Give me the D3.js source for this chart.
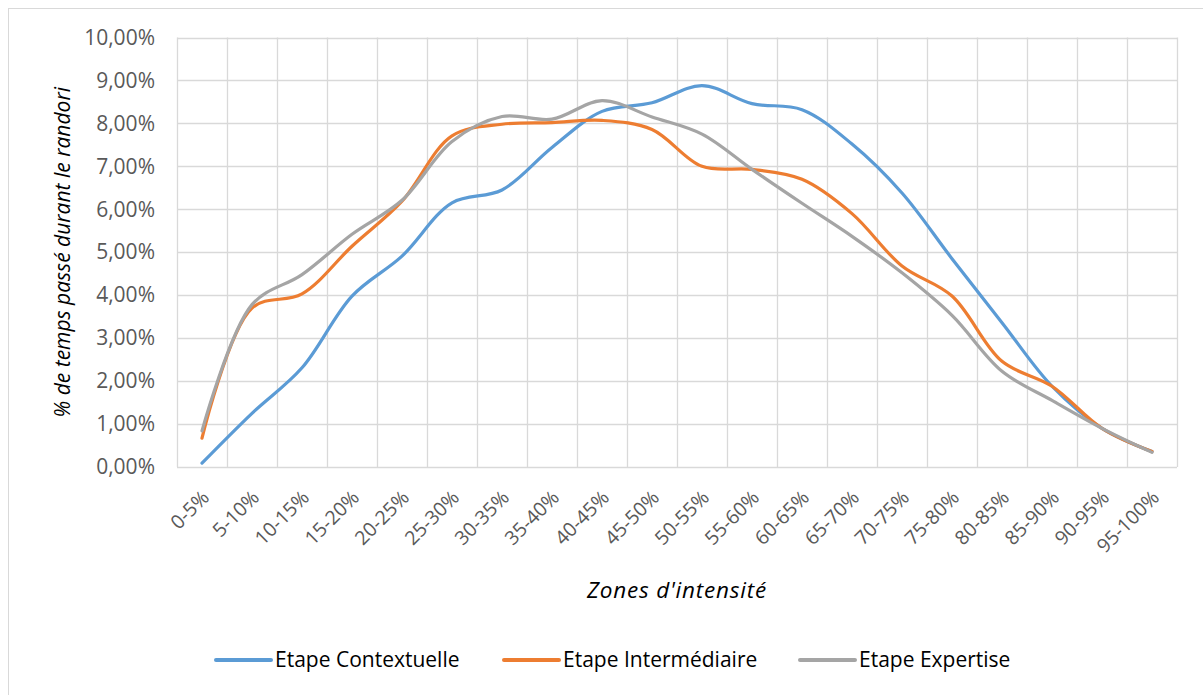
<!DOCTYPE html>
<html>
<head>
<meta charset="utf-8">
<script src="https://cdn.jsdelivr.net/npm/d3@7"></script>
<style>
  html, body { margin: 0; padding: 0; background: #fff; }
  svg { display: block; }
  text { font-family: "Open Sans", "Liberation Sans", sans-serif; }
</style>
</head>
<body>
<svg id="chart" width="1203" height="695"></svg>
<script>
// ---- Data ----
const categories = ["0-5%","5-10%","10-15%","15-20%","20-25%","25-30%","30-35%","35-40%","40-45%","45-50%",
  "50-55%","55-60%","60-65%","65-70%","70-75%","75-80%","80-85%","85-90%","90-95%","95-100%"];
const seriesNames = ["Etape Contextuelle", "Etape Intermédiaire", "Etape Expertise"];
const contextuelle = [0.09,1.25,2.31,3.98,4.91,6.15,6.45,7.44,8.28,8.48,8.88,8.46,8.32,7.52,6.38,4.85,3.36,1.88,0.90,0.36];
const intermediaire = [0.67,3.70,4.03,5.14,6.19,7.71,7.98,8.02,8.07,7.86,7.00,6.93,6.70,5.90,4.68,3.98,2.46,1.88,0.90,0.36];
const expertise = [0.84,3.78,4.48,5.42,6.21,7.58,8.16,8.10,8.53,8.15,7.75,6.93,6.14,5.37,4.52,3.53,2.23,1.55,0.90,0.34];
const yTicks = [0,1,2,3,4,5,6,7,8,9,10];
const yTitle = "% de temps passé durant le randori";
const xTitle = "Zones d'intensité";
const colors = ["#5B9BD5", "#ED7D31", "#A5A5A5"];

const seriesValues = [contextuelle, intermediaire, expertise];

// ---- Layout ----
const svg = d3.select("#chart");
const plot = { left: 177, right: 1177, top: 37.5, bottom: 467 };
const FONT = '"Open Sans", "Liberation Sans", sans-serif';

svg.append("rect").attr("x", 0).attr("y", 0).attr("width", 1203).attr("height", 695).attr("fill", "#fff");
// outer chart border
svg.append("rect").attr("x", 8.5).attr("y", 8.5).attr("width", 1205).attr("height", 700)
  .attr("fill", "none").attr("stroke", "#D9D9D9").attr("stroke-width", 1);

const xPoint = d3.scalePoint().domain(categories).range([plot.left, plot.right]).padding(0.5);
const xBand = d3.scaleBand().domain(categories).range([plot.left, plot.right]);
const y = d3.scaleLinear().domain([0, 10]).range([plot.bottom, plot.top]);

const frFormat = d3.formatLocale({decimal: ",", thousands: " ", grouping: [3], currency: ["", "€"]}).format(".2f");

// horizontal grid
const g = svg.append("g");
g.selectAll("line.h").data(yTicks).join("line")
  .attr("x1", plot.left).attr("x2", plot.right)
  .attr("y1", d => Math.round(y(d)) + 0.5).attr("y2", d => Math.round(y(d)) + 0.5)
  .attr("stroke", "#D9D9D9").attr("stroke-width", 1.3);
// vertical grid (category boundaries)
const vx = categories.map(c => xBand(c)).concat([xBand(categories[categories.length - 1]) + xBand.bandwidth()]);
g.selectAll("line.v").data(vx).join("line")
  .attr("x1", d => Math.round(d) + 0.5).attr("x2", d => Math.round(d) + 0.5)
  .attr("y1", plot.top).attr("y2", plot.bottom)
  .attr("stroke", "#D9D9D9").attr("stroke-width", 1.3);

// y axis labels
const yAxis = d3.axisLeft(y).tickValues(yTicks).tickSize(0).tickPadding(0).tickFormat(d => frFormat(d) + "%");
const ya = svg.append("g").attr("transform", `translate(${plot.left - 22},0)`).call(yAxis);
ya.select(".domain").remove();
ya.selectAll("text").attr("fill", "#595959").style("font-size", "21px")
  .style("font-family", FONT);

// x axis labels
const xAxis = d3.axisBottom(xPoint).tickSize(0).tickPadding(0);
const xa = svg.append("g").attr("transform", `translate(0,${plot.bottom})`).call(xAxis);
xa.select(".domain").remove();
xa.selectAll("text")
  .attr("fill", "#595959").style("font-size", "19.5px")
  .style("font-family", FONT)
  .attr("text-anchor", "end")
  .attr("y", 0).attr("dy", "0.35em")
  .attr("transform", "translate(3,27) rotate(-45)");

// lines
const line = d3.line()
  .x((d, i) => xPoint(categories[i]))
  .y(d => y(d))
  .curve(d3.curveCatmullRom.alpha(0.5));

svg.append("g").selectAll("path").data(seriesValues).join("path")
  .attr("d", d => line(d))
  .attr("fill", "none")
  .attr("stroke", (d, i) => colors[i])
  .attr("stroke-width", 3.2)
  .attr("stroke-linecap", "round")
  .attr("stroke-linejoin", "round");

// axis titles
svg.append("text")
  .attr("transform", `translate(70,${(plot.top + plot.bottom) / 2}) rotate(-90)`)
  .attr("text-anchor", "middle")
  .style("font-size", "21px").style("font-style", "italic").style("font-family", FONT)
  .attr("fill", "#000")
  .text(yTitle);

svg.append("text")
  .attr("x", (plot.left + plot.right) / 2).attr("y", 598)
  .attr("text-anchor", "middle")
  .style("font-size", "22.5px").style("font-style", "italic").style("font-family", FONT)
  .style("letter-spacing", "0.8px")
  .attr("fill", "#000")
  .text(xTitle);

// legend
const legendX = [216, 504, 800];
const lg = svg.append("g");
seriesNames.forEach((name, i) => {
  const gi = lg.append("g").attr("transform", `translate(${legendX[i]},660)`);
  gi.append("line").attr("x1", 0).attr("x2", 55).attr("y1", 0).attr("y2", 0)
    .attr("stroke", colors[i]).attr("stroke-width", 4).attr("stroke-linecap", "round");
  gi.append("text").attr("x", 59).attr("y", 0).attr("dy", "0.35em")
    .style("font-size", "21px").style("font-family", FONT).attr("fill", "#000").text(name);
});
</script>
</body>
</html>
